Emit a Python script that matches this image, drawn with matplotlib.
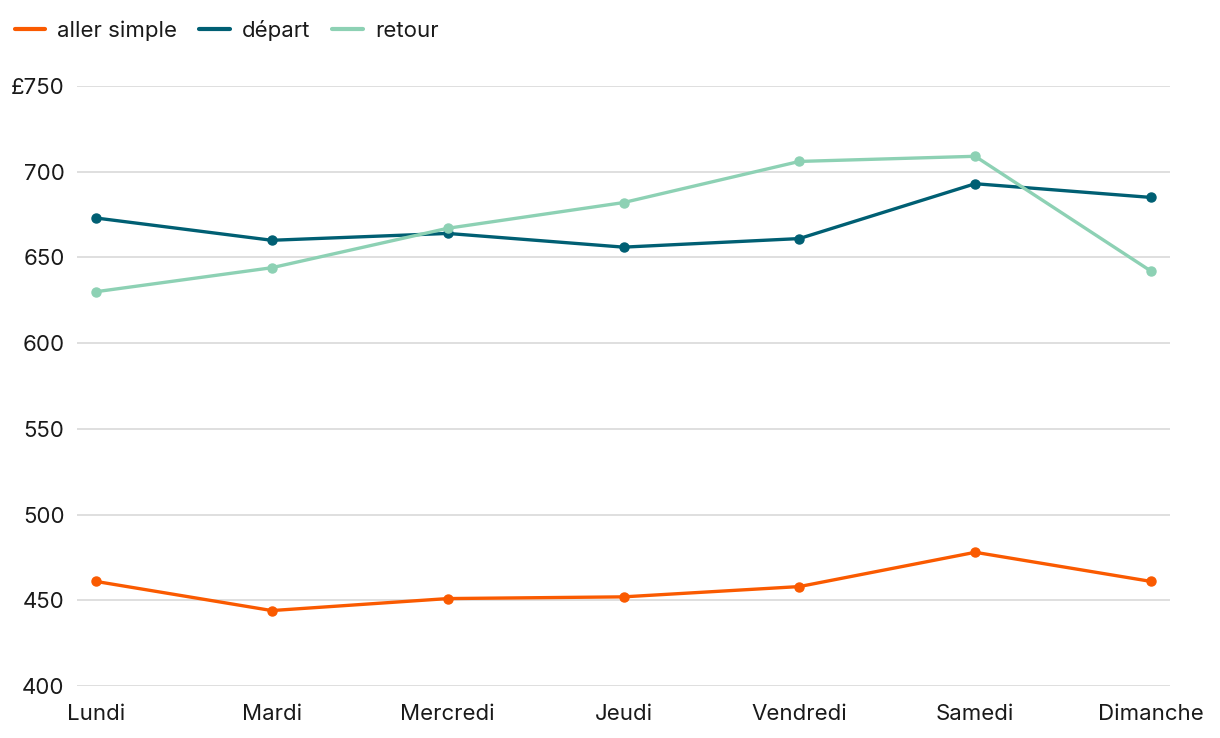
import matplotlib
matplotlib.use("Agg")
import matplotlib.pyplot as plt
from matplotlib.ticker import FuncFormatter

plt.rcParams['font.family'] = ['Inter', 'DejaVu Sans']

days = ["Lundi", "Mardi", "Mercredi", "Jeudi", "Vendredi", "Samedi", "Dimanche"]
aller_simple = [461, 444, 451, 452, 458, 478, 461]
depart = [673, 660, 664, 656, 661, 693, 685]
retour = [630, 644, 667, 682, 706, 709, 642]
series_names = ["aller simple", "départ", "retour"]
colors = ["#fa5a00", "#005f73", "#8dd1b4"]
yticks = [400, 450, 500, 550, 600, 650, 700, 750]

W, H = 1220, 738
fig = plt.figure(figsize=(W / 100, H / 100), dpi=100)
ax = fig.add_axes([77 / W, (H - 686) / H, (1170 - 77) / W, (686 - 86) / H])

x = list(range(len(days)))
for vals, name, c in zip([aller_simple, depart, retour], series_names, colors):
    ax.plot(x, vals, color=c, lw=2.4, marker='o', ms=6.5, label=name,
            solid_capstyle='round', zorder=3)

ax.set_xlim(-0.108, 6.108)
ax.set_ylim(400, 750)
ax.set_yticks(yticks)
ax.yaxis.set_major_formatter(FuncFormatter(lambda v, p: f"£{v:.0f}" if v == 750 else f"{v:.0f}"))
ax.set_xticks(x)
ax.set_xticklabels(days)
ax.grid(axis='y', color='#d9d9d9', lw=1.2, zorder=0)
ax.grid(axis='x', visible=False)
for s in ax.spines.values():
    s.set_visible(False)
ax.tick_params(axis='both', length=0, labelsize=16, colors='#1a1a1a')
ax.tick_params(axis='y', pad=9)
ax.tick_params(axis='x', pad=13)

leg = fig.legend(loc='upper left', bbox_to_anchor=(-0.0025, 0.997), ncol=3, frameon=False,
                 fontsize=16, handlelength=1.36, handletextpad=0.55, columnspacing=1.0,
                 borderaxespad=0.4)
for t in leg.get_texts():
    t.set_color('#1a1a1a')
for h in leg.legend_handles:
    h.set_marker('')
    h.set_linewidth(3)

fig.savefig("out.png", dpi=100)
